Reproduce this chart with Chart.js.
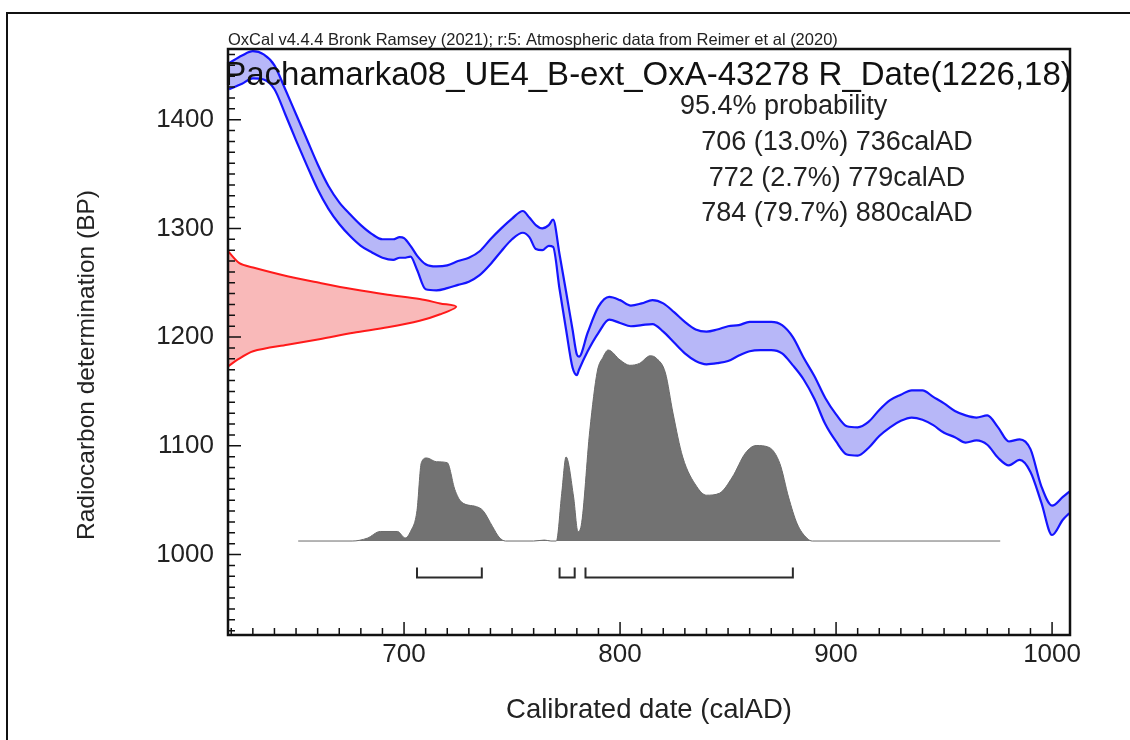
<!DOCTYPE html>
<html>
<head>
<meta charset="utf-8">
<title>OxCal calibration</title>
<script src="https://cdn.jsdelivr.net/npm/chart.js@4.4.1/dist/chart.umd.min.js"></script>
<style>
body { margin: 0; background: #fff; }
canvas { display: block; }
</style>
</head>
<body>
<canvas id="chart" width="1130" height="740"></canvas>
<script>
// calibration curve (IntCal20 band)
const curveCal = [619, 625, 630, 635, 640, 645, 650, 655, 660, 665, 670, 675, 680, 685, 690, 695, 698, 700, 703, 706,
	710, 715, 720, 725, 730, 735, 740, 745, 750, 755, 758, 761, 764, 767, 769, 772, 775, 778, 780, 781,
	785, 790, 795, 800, 805, 810, 815, 820, 825, 830, 835, 840, 845, 850, 855, 860, 865, 870, 875, 880,
	885, 890, 895, 900, 905, 910, 915, 920, 925, 930, 935, 940, 945, 950, 955, 960, 965, 970, 975, 980,
	985, 990, 995, 1000, 1005, 1008];
const curveUpper = [1452, 1459, 1463, 1460, 1450, 1428, 1405, 1382, 1359, 1339, 1324, 1313, 1303, 1295, 1290, 1290, 1292, 1291, 1284, 1275,
	1267, 1265, 1266, 1270, 1273, 1279, 1290, 1300, 1309, 1316, 1310, 1303, 1300, 1303, 1308, 1276, 1242, 1207, 1184, 1182,
	1204, 1228, 1237, 1234, 1229, 1231, 1234, 1231, 1223, 1214, 1207, 1205, 1207, 1210, 1211, 1214, 1214, 1214, 1211, 1200,
	1181, 1164, 1144, 1129, 1118, 1117, 1122, 1133, 1142, 1147, 1151, 1151, 1145, 1139, 1132, 1128, 1126, 1128, 1117, 1104,
	1106, 1097, 1063, 1045, 1053, 1058];
const curveLower = [1428, 1433, 1438, 1437, 1428, 1405, 1381, 1358, 1336, 1318, 1304, 1293, 1284, 1278, 1273, 1271, 1273, 1273, 1274, 1262,
	1244, 1243, 1245, 1248, 1251, 1257, 1267, 1279, 1290, 1296, 1292, 1281, 1280, 1284, 1283, 1244, 1207, 1172, 1165, 1170,
	1187, 1204, 1216, 1213, 1210, 1211, 1212, 1205, 1195, 1185, 1178, 1175, 1176, 1178, 1183, 1187, 1188, 1188, 1185, 1174,
	1161, 1143, 1120, 1104, 1092, 1091, 1098, 1109, 1117, 1123, 1126, 1124, 1119, 1112, 1108, 1103, 1105, 1101, 1089, 1082,
	1087, 1076, 1048, 1018, 1032, 1038];

// radiocarbon measurement 1226 +/- 18 BP (red, relative probability)
const dateBP = [1279, 1268, 1264, 1256, 1250, 1244, 1239, 1235, 1231, 1228, 1221, 1215, 1209, 1204, 1198, 1193, 1187, 1179, 1173];
const dateProb = [0, 0.05, 0.11, 0.26, 0.40, 0.55, 0.70, 0.84, 0.93, 1.0, 0.93, 0.84, 0.70, 0.55, 0.40, 0.26, 0.11, 0.04, 0];

// calibrated distribution (grey, relative probability)
const postCal = [651, 676, 683, 689, 697, 700.5, 703, 706, 708, 710.5, 715, 720, 723.5, 726.5, 733.5, 736.5, 741, 744, 747, 760,
	765, 768, 770.5, 773, 775, 778.5, 780.5, 782, 786, 789.5, 792, 794.5, 800, 804.5, 809, 814, 817, 821, 824.5, 829,
	835.5, 840, 846, 852, 858, 863, 869, 874, 878, 882, 886.5, 889, 976];
const postProb = [0, 0, 0.015, 0.05, 0.05, 0.016, 0.05, 0.16, 0.41, 0.435, 0.415, 0.41, 0.27, 0.205, 0.18, 0.16, 0.075, 0.02, 0, 0,
	0.005, 0, 0, 0.25, 0.44, 0.23, 0.05, 0.08, 0.58, 0.89, 0.96, 1.0, 0.948, 0.92, 0.93, 0.97, 0.955, 0.88, 0.67, 0.44,
	0.285, 0.24, 0.25, 0.335, 0.46, 0.50, 0.49, 0.405, 0.23, 0.09, 0.015, 0, 0];

// 95.4% ranges
const rangeFrom = [706, 772, 784];
const rangeTo = [736, 779, 880];
const rangePct = ['13.0', '2.7', '79.7'];

const xTicks = [700, 800, 900, 1000];
const yTicks = [1000, 1100, 1200, 1300, 1400];

const sampleName = 'Pachamarka08_UE4_B-ext_OxA-43278';
const c14Mean = 1226, c14Err = 18;

const FONT = "'Liberation Sans', Arial, Helvetica, sans-serif";
const BR_BASE = 979, BR_TOP = 988;

const pts = (xs, ys) => xs.map((v, i) => ({x: v, y: ys[i]}));

const bracketSets = rangeFrom.map((f, i) => ({
	data: [{x: f, y: BR_TOP}, {x: f, y: BR_BASE}, {x: rangeTo[i], y: BR_BASE}, {x: rangeTo[i], y: BR_TOP}],
	borderColor: '#2b2b2b',
	borderWidth: 2,
	fill: false,
}));

const oxcalDecor = {
	id: 'oxcalDecor',
	afterDraw(chart) {
		const {ctx, chartArea: a, scales: {x, y}} = chart;
		ctx.save();
		// inward ticks
		ctx.strokeStyle = '#111';
		ctx.lineWidth = 1.5;
		ctx.beginPath();
		for (let v = 620; v <= 1000; v += 10) {
			const px = x.getPixelForValue(v);
			ctx.moveTo(px, a.bottom);
			ctx.lineTo(px, a.bottom - (v % 100 === 0 ? 13 : 7));
		}
		for (let v = 930; v <= 1460; v += 10) {
			const py = y.getPixelForValue(v);
			ctx.moveTo(a.left, py);
			ctx.lineTo(a.left + (v % 100 === 0 ? 13 : 7), py);
		}
		ctx.stroke();
		// plot frame
		ctx.lineWidth = 2.5;
		ctx.strokeRect(a.left, a.top, a.right - a.left, a.bottom - a.top);
		// figure frame
		ctx.lineWidth = 2;
		ctx.strokeRect(7, 13, 1200, 800);

		ctx.fillStyle = '#222';
		ctx.textBaseline = 'alphabetic';
		ctx.textAlign = 'left';
		ctx.font = '16.5px ' + FONT;
		ctx.fillText('OxCal v4.4.4 Bronk Ramsey (2021); r:5: Atmospheric data from Reimer et al (2020)', a.left, a.top - 4);

		ctx.fillStyle = '#111';
		ctx.textAlign = 'center';
		ctx.font = '33px ' + FONT;
		ctx.fillText(sampleName + ' R_Date(' + c14Mean + ',' + c14Err + ')', (a.left + a.right) / 2 - 1, a.top + 36);

		ctx.fillStyle = '#222';
		ctx.font = '27px ' + FONT;
		ctx.textBaseline = 'middle';
		ctx.textAlign = 'left';
		ctx.fillText('95.4% probability', 680, 107);
		ctx.textAlign = 'center';
		rangeFrom.forEach((f, i) => {
			ctx.fillText(f + ' (' + rangePct[i] + '%) ' + rangeTo[i] + 'calAD', 837, 143 + i * 35.5);
		});

		// y axis title
		ctx.save();
		ctx.translate(87, 365);
		ctx.rotate(-Math.PI / 2);
		ctx.font = '24.5px ' + FONT;
		ctx.fillText('Radiocarbon determination (BP)', 0, 0);
		ctx.restore();
		ctx.restore();
	}
};

new Chart(document.getElementById('chart').getContext('2d'), {
	type: 'line',
	data: {
		datasets: [
			...bracketSets,
			{
				// curve upper edge
				data: pts(curveCal, curveUpper),
				borderColor: '#1414ff',
				borderWidth: 2.2,
				cubicInterpolationMode: 'monotone',
				fill: false,
			},
			{
				// curve lower edge, band filled up to the upper edge
				data: pts(curveCal, curveLower),
				borderColor: '#1414ff',
				borderWidth: 2.2,
				cubicInterpolationMode: 'monotone',
				backgroundColor: 'rgba(95, 95, 240, 0.45)',
				fill: '-1',
			},
			{
				data: pts(dateProb, dateBP),
				xAxisID: 'xp',
				borderColor: '#ff1a1a',
				borderWidth: 2,
				tension: 0.3,
				backgroundColor: 'rgba(240, 80, 80, 0.4)',
				fill: 'shape',
			},
			{
				data: pts(postCal, postProb),
				yAxisID: 'yp',
				borderColor: '#6a6a6a',
				borderWidth: 1,
				cubicInterpolationMode: 'monotone',
				backgroundColor: '#727272',
				fill: 'origin',
			},
		]
	},
	options: {
		responsive: false,
		animation: false,
		devicePixelRatio: 1,
		layout: {
			padding: {left: 0, top: 49, right: 60, bottom: 0}
		},
		elements: {
			point: {radius: 0, hoverRadius: 0},
			line: {tension: 0}
		},
		plugins: {
			legend: {display: false},
			tooltip: {enabled: false}
		},
		scales: {
			x: {
				type: 'linear',
				min: 618.5,
				max: 1008.3,
				grid: {display: false, drawTicks: false},
				border: {display: false},
				afterBuildTicks: s => { s.ticks = xTicks.map(v => ({value: v})); },
				afterFit: s => { s.height = 105; s.paddingLeft = 0; s.paddingRight = 0; },
				ticks: {
					callback: v => String(v),
					font: {family: FONT, size: 26},
					color: '#222',
					padding: 4,
					maxRotation: 0,
					autoSkip: false
				},
				title: {
					display: true,
					text: 'Calibrated date (calAD)',
					font: {family: FONT, size: 27.5},
					color: '#222',
					padding: {top: 0, bottom: 13}
				}
			},
			y: {
				type: 'linear',
				min: 926,
				max: 1465,
				grid: {display: false, drawTicks: false},
				border: {display: false},
				afterBuildTicks: s => { s.ticks = yTicks.map(v => ({value: v})); },
				afterFit: s => { s.width = 228; s.paddingTop = 0; s.paddingBottom = 0; },
				ticks: {
					callback: v => String(v),
					font: {family: FONT, size: 26},
					color: '#222',
					padding: 14
				}
			},
			xp: {type: 'linear', display: false, min: 0, max: 3.69},
			yp: {type: 'linear', display: false, min: -0.492, max: 2.576}
		}
	},
	plugins: [oxcalDecor]
});
</script>
</body>
</html>
